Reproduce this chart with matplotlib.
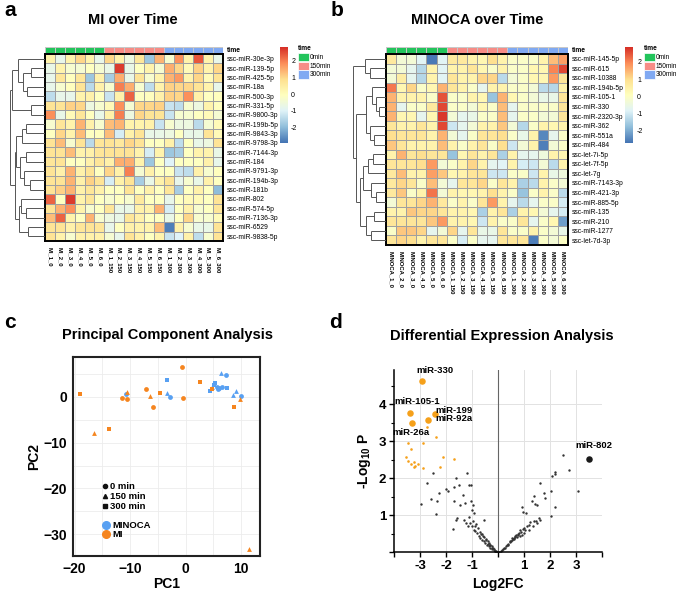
import numpy as np
import matplotlib
matplotlib.use('Agg')
import matplotlib.pyplot as plt
from matplotlib.colors import LinearSegmentedColormap, ListedColormap
from matplotlib.lines import Line2D

plt.rcParams['font.family'] = ['Liberation Sans', 'DejaVu Sans']
plt.rcParams['mathtext.fontset'] = 'custom'
plt.rcParams['mathtext.rm'] = 'Liberation Sans'
plt.rcParams['mathtext.bf'] = 'Liberation Sans:bold'

# ---------------- data ----------------
time_groups = ['0min', '150min', '300min']
time_colors = ['#22C45B', '#F78C86', '#80A9F2']
col_group = [0]*6 + [1]*6 + [2]*6

mi_rows = ['ssc-miR-30e-3p', 'ssc-miR-139-5p', 'ssc-miR-425-5p', 'ssc-miR-18a', 'ssc-miR-500-3p',
           'ssc-miR-331-5p', 'ssc-miR-9800-3p', 'ssc-miR-199b-5p', 'ssc-miR-9843-3p', 'ssc-miR-9798-3p',
           'ssc-miR-7144-3p', 'ssc-miR-184', 'ssc-miR-9791-3p', 'ssc-miR-194b-3p', 'ssc-miR-181b',
           'ssc-miR-802', 'ssc-miR-574-5p', 'ssc-miR-7136-3p', 'ssc-miR-6529', 'ssc-miR-9838-5p']
mi_cols = ['MI_1_0', 'MI_2_0', 'MI_3_0', 'MI_4_0', 'MI_5_0', 'MI_6_0',
           'MI_1_150', 'MI_2_150', 'MI_3_150', 'MI_4_150', 'MI_5_150', 'MI_6_150',
           'MI_1_300', 'MI_2_300', 'MI_3_300', 'MI_4_300', 'MI_5_300', 'MI_6_300']
mi_vals = [
    [0.3, -0.8, 0.3, 1.0, 0.3, -0.8, 1.0, 0.4, -0.6, 0.7, -1.8, 1.4, -0.3, 1.8, 0.3, 2.4, 0.3, -0.8],
    [-0.7, 0.3, -0.3, -0.4, -0.1, -0.4, -0.7, 2.7, -0.7, -0.1, 0.3, -0.4, 1.5, 1.0, 0.1, 1.1, 0.3, 1.0],
    [-0.8, 0.7, 0.0, 0.7, -1.8, 0.4, -1.7, 1.5, -0.7, 0.8, -0.3, 0.3, 1.4, 1.7, 0.3, 1.0, 0.1, 0.8],
    [-0.8, -0.3, 0.0, 0.8, -1.5, 0.4, -0.3, 2.0, 1.5, -0.3, -1.4, 0.3, 1.1, 1.0, 1.0, 0.8, 0.3, -0.8],
    [-1.4, -0.8, -0.8, 0.3, 0.4, -0.1, -1.3, 0.4, 2.3, -0.1, 0.0, 0.4, 1.1, 1.0, 1.8, 0.4, -0.1, 0.0],
    [0.8, 0.8, 1.1, 1.0, -0.6, -0.3, 0.1, 1.8, -0.4, 1.0, 1.0, 1.1, -1.3, -1.4, -0.3, -0.6, 0.3, 0.0],
    [1.8, -0.7, 0.1, 0.7, 0.0, -0.7, 0.4, 2.0, -0.6, 1.0, 0.8, 0.8, -1.3, -0.3, -0.3, -0.1, 0.1, -0.4],
    [-0.3, 0.7, 0.3, 1.4, 0.4, -0.3, 1.3, 1.4, 0.3, 0.3, 0.4, -1.3, -0.3, -0.6, -0.6, -1.5, -0.4, 0.1],
    [-0.1, 1.0, 0.3, 1.3, -0.1, 0.0, 1.3, -1.1, 0.4, 0.8, -0.7, -0.7, -0.6, -0.1, -0.7, -0.7, 0.8, 0.1],
    [0.8, 1.3, -0.3, 0.8, -1.5, 0.7, 0.8, 0.6, 1.0, 0.8, -0.1, -0.1, 0.4, -1.4, -0.1, -0.7, -0.6, 0.8],
    [0.8, 0.8, 1.3, 0.3, 0.4, 0.7, 0.8, 0.8, 0.8, 0.3, -1.1, 0.3, -1.8, -1.7, -0.1, 0.3, 0.3, -0.7],
    [0.7, 0.8, -0.1, -0.1, 0.4, 0.7, 0.4, 1.5, 1.5, 0.3, -1.8, -0.1, -1.0, -0.1, -0.1, -0.1, 0.4, -0.8],
    [0.8, 0.4, 1.4, 0.4, 0.8, -0.1, 1.0, 0.4, 2.0, -0.4, 0.4, -0.1, -0.1, -1.3, -1.4, 0.4, -0.3, 0.0],
    [0.8, 0.8, 1.4, 0.4, 1.1, 0.8, -1.1, 0.4, 0.8, -1.7, -0.7, 0.4, 0.8, -0.8, -0.3, -0.7, 0.4, -0.1],
    [0.8, 1.1, 1.4, 0.4, 0.7, 0.4, -0.1, -0.1, 0.8, -0.1, 0.4, -0.1, 0.7, -1.7, -0.1, 0.4, -0.1, -2.0],
    [2.3, -0.1, 2.7, 0.3, 0.7, -0.1, -0.3, -0.1, -0.3, 0.6, -0.1, -0.1, -0.8, -0.1, 0.1, 0.1, -0.1, 0.8],
    [0.8, 1.4, 1.8, 0.3, -0.3, -0.1, 0.7, -0.7, -0.7, 0.4, 0.3, 1.4, -1.1, -0.1, 0.4, -0.3, -0.1, 0.7],
    [1.3, 2.3, 0.3, -0.1, 1.4, -0.3, -0.6, -0.7, 0.7, 0.4, -0.1, -0.1, -0.7, -0.1, 1.0, -0.3, -0.3, 0.1],
    [0.8, 0.8, 0.4, 0.7, 0.8, 0.7, -0.8, -0.1, 0.4, 0.3, 0.3, 1.3, -2.8, 0.4, -0.3, -0.7, -0.7, 0.8],
    [0.8, 0.3, -0.3, 0.4, 0.4, 0.4, -0.4, -0.8, 0.8, 0.4, -0.1, 0.3, -1.3, -1.0, 0.4, -1.4, -0.3, 0.8],
]
mi_tree = (((0, ((1, 2, 0.41), (3, 4, 0.52), 0.64), 0.76), (5, 6, 0.41), 0.93),
           ((((7, 8, 0.55), 9, 0.67), ((10, 11, 0.55), (12, (13, 14, 0.42), 0.6), 0.72), 0.82),
            ((15, (16, 17, 0.55), 0.68), (18, 19, 0.5), 0.75), 0.87), 1.0)

mn_rows = ['ssc-miR-145-5p', 'ssc-miR-615', 'ssc-miR-10388', 'ssc-miR-194b-5p', 'ssc-miR-105-1',
           'ssc-miR-330', 'ssc-miR-2320-3p', 'ssc-miR-362', 'ssc-miR-551a', 'ssc-miR-484',
           'ssc-let-7i-5p', 'ssc-let-7f-5p', 'ssc-let-7g', 'ssc-miR-7143-3p', 'ssc-miR-421-3p',
           'ssc-miR-885-5p', 'ssc-miR-135', 'ssc-miR-210', 'ssc-miR-1277', 'ssc-let-7d-3p']
mn_cols = ['MINOCA_1_0', 'MINOCA_2_0', 'MINOCA_3_0', 'MINOCA_4_0', 'MINOCA_5_0', 'MINOCA_6_0',
           'MINOCA_1_150', 'MINOCA_2_150', 'MINOCA_3_150', 'MINOCA_4_150', 'MINOCA_5_150', 'MINOCA_6_150',
           'MINOCA_1_300', 'MINOCA_2_300', 'MINOCA_3_300', 'MINOCA_4_300', 'MINOCA_5_300', 'MINOCA_6_300']
mn_vals = [
    [0.7, -0.3, -0.3, -0.8, -2.7, -0.8, 0.7, 0.7, 0.4, 0.3, 1.0, 0.4, -0.1, -0.1, -0.1, 0.4, 1.4, 1.7],
    [-0.3, -0.3, -0.7, -1.4, 0.4, -0.8, 0.4, 0.4, 0.8, 0.3, -0.1, 0.4, -0.1, -0.1, 0.3, 0.3, 2.0, 2.6],
    [-0.3, 0.6, -0.7, -1.4, 0.4, -0.8, 0.8, 0.4, 0.4, 1.1, 1.1, -1.3, -0.3, -0.1, 0.3, 0.3, 1.8, 0.8],
    [2.1, 0.3, 1.1, -0.1, 0.3, 1.5, 0.8, 0.4, -0.1, -0.7, 0.4, 0.4, -0.1, -0.1, -0.3, -1.3, -1.4, 0.4],
    [1.5, 0.4, 0.4, 0.4, -0.1, 2.5, -0.1, -0.1, 0.4, 0.3, -1.7, 1.5, 0.3, -0.1, -0.3, -0.6, -0.6, 0.8],
    [1.5, -0.7, -0.1, -0.1, 0.7, 2.6, -0.1, -0.1, -0.3, 0.3, -0.1, 1.4, -0.7, -0.1, -0.1, -0.1, -0.1, 0.8],
    [1.5, 0.3, 0.3, -0.7, 0.3, 2.8, -0.3, -0.7, -0.6, -0.1, -0.1, 1.4, -0.7, -0.1, -0.1, -0.3, -0.3, 0.8],
    [0.8, 0.4, 0.4, 0.8, 0.4, 2.6, -1.1, -0.7, -0.3, 0.4, 0.4, 1.3, -0.3, -1.4, -0.1, 0.4, 0.3, 0.4],
    [1.0, 0.8, 0.8, 0.8, 0.4, 1.5, -0.3, -0.7, -0.1, 0.8, 0.8, 1.0, -0.1, -0.6, 0.4, -2.5, -0.7, -0.1],
    [1.3, 0.8, 0.4, 0.4, 0.4, 1.4, 0.4, -0.1, 0.4, 0.8, -0.1, 1.0, -1.1, -0.3, 0.4, -2.6, -0.3, -0.1],
    [0.4, 1.5, 0.8, 1.0, 0.8, 0.8, -1.7, 0.3, 0.8, 0.4, 0.8, -1.5, 0.4, -0.7, -0.7, -0.4, 0.4, 0.3],
    [0.8, 0.8, 0.8, 1.0, 1.8, -0.3, -0.1, 0.4, 1.1, 0.4, -0.7, -0.8, 0.4, -1.0, -1.1, -0.3, -1.3, 0.4],
    [0.7, 1.4, 0.4, 0.4, 1.7, 1.3, 0.3, 0.4, 0.8, 0.8, -1.1, -1.1, -0.1, -0.1, -1.1, 0.4, -0.6, -0.4],
    [0.7, 1.1, 0.8, -0.1, 1.4, -0.3, -0.7, 0.8, 0.8, 1.1, -0.1, 0.8, 0.4, -1.5, -1.3, 0.4, -0.1, -0.3],
    [0.7, 1.3, -0.1, 0.4, 2.2, -0.3, 0.4, 0.3, 0.3, 0.4, 1.0, 0.4, -0.1, -1.7, -0.1, 0.4, -0.1, -1.3],
    [-0.3, 0.8, 0.8, 1.1, 1.5, 0.7, -0.1, 0.4, -0.1, 0.8, 1.8, 0.4, -0.7, -1.3, -0.7, -0.1, -0.1, -1.0],
    [0.4, 0.4, 1.3, 1.1, 1.1, 0.8, 0.4, 0.4, 0.3, -1.5, 0.4, 0.8, -1.5, 0.4, 0.3, -0.3, -0.7, -1.0],
    [0.8, 0.8, 0.8, 0.8, 1.3, 1.8, 0.4, 0.4, 0.3, -1.1, 0.4, -0.1, -0.1, 0.8, -0.7, -0.1, 0.3, -2.2],
    [-0.1, 1.3, 1.3, 1.1, -0.7, -0.3, 1.1, -0.7, 0.8, -0.6, -0.6, 0.8, -0.1, -0.1, 0.4, -0.1, -0.3, -0.6],
    [0.8, 1.1, 1.0, 0.4, 0.8, 0.8, -0.1, -1.0, -0.1, -0.7, -0.7, 0.8, 0.8, 0.8, -2.6, -0.1, -0.3, 0.0],
]
mn_tree = ((0, (1, 2, 0.5), 0.64),
           (((3, (4, (5, 6, 0.2), 0.3), 0.42), (7, (8, 9, 0.35), 0.48), 0.62),
            ((((10, 11, 0.4), 12, 0.55), (13, (14, 15, 0.3), 0.45), 0.7),
             ((16, 17, 0.35), (18, 19, 0.45), 0.6), 0.8), 0.9), 1.0)

# PCA (PC1, PC2, time group index)
pca_mi_pc1 = [-19.0, -16.6, -13.8, -11.4, -10.6, -10.5, -7.1, -6.4, -5.8, -4.6, -0.6, -0.4, 2.5, 4.8, 8.8, 9.8, 11.5]
pca_mi_pc2 = [0.6, -7.9, -7.1, -0.3, -0.5, 1.1, 1.8, 0.3, -2.3, 0.8, 6.6, -0.3, 3.2, 1.7, -2.3, -0.4, -33.3]
pca_mi_time = [2, 1, 2, 0, 0, 1, 0, 1, 0, 2, 0, 0, 2, 2, 2, 1, 1]
pca_mn_pc1 = [-10.7, -3.4, -3.3, -2.9, 6.3, 7.3, 5.3, 4.7, 4.4, 5.6, 5.8, 6.6, 7.4, 8.5, 9.1, 10.0, 5.1, 6.0]
pca_mn_pc2 = [0.6, 3.7, 0.8, -0.1, 5.3, 4.9, 3.0, 2.1, 1.4, 2.1, 1.7, 2.2, 2.0, 0.4, 1.3, 0.3, 2.6, 1.9]
pca_mn_time = [0, 2, 1, 0, 1, 0, 2, 1, 2, 0, 0, 0, 2, 1, 1, 0, 2, 0]

# Volcano
volc_sig_names = ['miR-330', 'miR-105-1', 'miR-199', 'miR-92a', 'miR-26a']
volc_sig_fc = [-2.91, -3.40, -2.44, -2.71, -3.31]
volc_sig_p = [4.63, 3.77, 3.74, 3.58, 3.50]
volc_up_name = 'miR-802'
volc_up_fc = 3.50
volc_up_p = 2.52
volc_or_fc = [-2.73, -2.38, -3.45, -2.88, -3.35, -3.53, -3.46, -3.22, -3.18, -3.09, -3.22, -2.90,
              -2.22, -2.13, -1.71, -3.33]
volc_or_p = [3.37, 3.10, 2.95, 2.95, 2.79, 2.56, 2.47, 2.42, 2.33, 2.37, 2.29, 2.27,
             2.30, 2.58, 2.51, 2.39]
volc_fc = [-2.50, -2.73, -2.95, -2.35, -2.58, -2.38, -2.28, -2.01, -1.92, -1.63, -1.51, -1.19, -1.10,
           -1.04, -1.68, -1.35, -1.71, -1.47, -1.27, -1.58, -1.73, -1.63, -1.03, -0.96, -1.00, -0.94,
           -1.32, -1.24, -1.06, -1.15, -1.00, -0.94, -0.55, -0.87, -0.81, -0.74, -0.68, -0.62, -0.55,
           -0.49, -0.42, -0.36, -0.29, -0.23, -0.17, -0.10, -0.78, -0.70, -0.65, -0.60, -0.52, -0.45,
           -0.40, -0.35, -0.30, -0.25, -0.20, -0.15, -0.12, -0.85, -0.90, -0.95, -1.10, -0.58, -0.48,
           -0.38, -0.32, -0.22, -0.08, -0.05,
           2.50, 2.73, 3.08, 2.18, 2.21, 2.09, 2.04, 2.21, 2.03, 1.63, 1.78, 1.79, 1.37, 1.29, 1.42,
           1.51, 0.94, 1.09, 0.96, 1.58, 1.37, 1.24, 1.12, 1.05, 0.99, 0.92, 0.86, 0.73, 0.60, 0.47,
           0.35, 0.22, 0.15, 1.63, 1.50, 1.35, 1.18, 0.86, 0.67, 0.54, 0.10, 0.30, 0.40, 0.50, 0.55,
           0.62, 0.70, 0.78, 0.82, 0.90, 1.00, 0.45, 0.65, 0.75, 0.95, 1.20, 1.45, 0.58, 0.38, 0.25,
           0.18, 0.05]
volc_p = [2.14, 1.86, 1.29, 1.37, 1.43, 1.03, 1.59, 1.69, 1.66, 1.99, 1.80, 2.13, 1.82,
          1.82, 1.75, 1.53, 1.38, 1.28, 1.32, 0.92, 0.62, 0.87, 1.38, 1.27, 1.13, 1.05,
          0.87, 0.78, 0.78, 0.69, 0.69, 0.60, 0.87, 0.56, 0.51, 0.42, 0.38, 0.33, 0.29,
          0.24, 0.20, 0.15, 0.11, 0.08, 0.05, 0.02, 0.65, 0.55, 0.48, 0.50, 0.40, 0.33,
          0.30, 0.25, 0.20, 0.15, 0.10, 0.08, 0.04, 0.75, 0.70, 0.85, 0.95, 0.42, 0.36,
          0.22, 0.18, 0.12, 0.03, 0.01,
          2.61, 2.21, 1.65, 2.15, 2.12, 2.06, 1.64, 1.22, 0.98, 1.86, 1.59, 1.46, 1.52, 1.38, 1.31,
          1.26, 1.23, 1.05, 1.07, 0.92, 0.83, 0.80, 0.69, 0.60, 0.51, 0.47, 0.42, 0.41, 0.35, 0.29,
          0.20, 0.11, 0.06, 0.87, 0.78, 0.71, 0.60, 0.60, 0.44, 0.39, 0.03, 0.15, 0.22, 0.30, 0.33,
          0.38, 0.45, 0.48, 0.52, 0.55, 0.65, 0.26, 0.40, 0.46, 0.62, 0.72, 0.85, 0.36, 0.18, 0.12,
          0.08, 0.01]

# ---------------- figure ----------------
W, H = 677, 592
fig = plt.figure(figsize=(W / 100, H / 100), dpi=100)


def px_axes(x0, y0, x1, y1):
    return fig.add_axes([x0 / W, 1 - y1 / H, (x1 - x0) / W, (y1 - y0) / H])


def fx(x):
    return x / W


def fy(y):
    return 1 - y / H


cmap = LinearSegmentedColormap.from_list(
    'ph', ['#4575B4', '#91BFDB', '#E0F3F8', '#FFFFBF', '#FEE090', '#FC8D59', '#D73027'], N=100)
ann_cmap = ListedColormap(time_colors)


def draw_dendro(ax, tree, n):
    def rec(node):
        if isinstance(node, int):
            return node + 0.5, 0.0
        l, r, h = node
        yl, hl = rec(l)
        yr, hr = rec(r)
        kw = dict(color='#555555', lw=0.7, solid_capstyle='butt')
        ax.plot([hl, h], [yl, yl], **kw)
        ax.plot([hr, h], [yr, yr], **kw)
        ax.plot([h, h], [yl, yr], **kw)
        return (yl + yr) / 2, h
    rec(tree)
    ax.set_xlim(1.0, 0)
    ax.set_ylim(n, 0)
    ax.axis('off')


def heatmap_panel(box, ann_box, dendro_x, vals, rows, cols, tree, vmin, vmax,
                  cbar_box, legend_x, title, title_x):
    x0, y0, x1, y1 = box
    data = np.array(vals)
    nr, nc = data.shape
    ax = px_axes(x0, y0, x1, y1)
    ax.pcolormesh(data, cmap=cmap, vmin=vmin, vmax=vmax, edgecolors='#a0a0a0', linewidth=0.5)
    ax.set_xlim(0, nc)
    ax.set_ylim(nr, 0)
    for s in ax.spines.values():
        s.set_linewidth(1.4)
        s.set_color('black')
    ax.yaxis.tick_right()
    ax.set_yticks(np.arange(nr) + 0.5)
    ax.set_yticklabels(rows, fontsize=4.9)
    ax.set_xticks(np.arange(nc) + 0.5)
    ax.set_xticklabels(cols, fontsize=4.2, rotation=270, fontweight='bold')
    ax.tick_params(length=0, pad=3)
    ax.tick_params(axis='x', pad=4)
    # annotation bar
    aa = px_axes(*ann_box)
    aa.pcolormesh(np.array([col_group]), cmap=ann_cmap, vmin=-0.5, vmax=2.5,
                  edgecolors='#c8c8c8', linewidth=0.4)
    aa.set_xlim(0, nc)
    aa.set_ylim(1, 0)
    aa.set_xticks([])
    aa.yaxis.tick_right()
    aa.set_yticks([0.5])
    aa.set_yticklabels(['time'], fontsize=4.9, fontweight='bold')
    aa.tick_params(length=0, pad=3)
    for s in aa.spines.values():
        s.set_visible(False)
    # dendrogram
    da = px_axes(dendro_x, y0, x0, y1)
    draw_dendro(da, tree, nr)
    # colorbar
    ca = px_axes(*cbar_box)
    grad = np.linspace(vmax, vmin, 100).reshape(-1, 1)
    ca.imshow(grad, cmap=cmap, vmin=vmin, vmax=vmax, aspect='auto',
              extent=[0, 1, vmin, vmax])
    ca.set_xticks([])
    ca.yaxis.tick_right()
    ca.set_yticks([2, 1, 0, -1, -2])
    ca.set_yticklabels(['2', '1', '0', '-1', '-2'], fontsize=5.0)
    ca.tick_params(length=0, pad=3)
    for s in ca.spines.values():
        s.set_visible(False)
    # legend
    fig.text(fx(legend_x), fy(49), 'time', fontsize=4.8, fontweight='bold', va='center')
    for k, (lab, col) in enumerate(zip(time_groups, time_colors)):
        ytop = 53 + k * 8.7
        fig.patches.append(plt.Rectangle((fx(legend_x), fy(ytop + 8.2)), 10.5 / W, 8.2 / H,
                                         transform=fig.transFigure, facecolor=col,
                                         edgecolor='white', lw=0.5))
        fig.text(fx(legend_x + 12), fy(ytop + 4.3), lab, fontsize=4.7, va='center')
    fig.text(fx(title_x), fy(20), title, fontsize=10.5, fontweight='bold', ha='center', va='center')


heatmap_panel((45, 54, 223, 241), (45, 46.5, 223, 52.5), 10, mi_vals, mi_rows, mi_cols, mi_tree,
              -2.95, 2.84, (279.5, 47, 287, 143), 298, 'MI over Time', 133)
heatmap_panel((386, 54, 568, 245), (386, 47, 568, 53), 353, mn_vals, mn_rows, mn_cols, mn_tree,
              -2.76, 2.88, (625, 47, 633, 143), 644, 'MINOCA over Time', 477)

# panel letters
for lab, x, y in [('a', 4, 10), ('b', 331, 10), ('c', 4, 322), ('d', 329, 322)]:
    fig.text(fx(x), fy(y), lab, fontsize=15, fontweight='bold', va='center', ha='left')

# ---------------- PCA ----------------
pa = px_axes(73, 357, 260, 556)
pa.set_xlim(-20.3, 13.4)
pa.set_ylim(-34.8, 8.75)
markers = ['o', '^', 's']
c_mn = '#58A0F2'
c_mi = '#F5851F'
for t in range(3):
    xs = [x for x, tt in zip(pca_mn_pc1, pca_mn_time) if tt == t]
    ys = [y for y, tt in zip(pca_mn_pc2, pca_mn_time) if tt == t]
    pa.scatter(xs, ys, marker=markers[t], s=12, color=c_mn, linewidths=0, zorder=3)
for t in range(3):
    xs = [x for x, tt in zip(pca_mi_pc1, pca_mi_time) if tt == t]
    ys = [y for y, tt in zip(pca_mi_pc2, pca_mi_time) if tt == t]
    pa.scatter(xs, ys, marker=markers[t], s=12, color=c_mi, linewidths=0, zorder=3)
pa.set_xticks([-20, -10, 0, 10])
pa.set_yticks([0, -10, -20, -30])
pa.set_xticks(np.arange(-20, 15, 5), minor=True)
pa.set_yticks(np.arange(-30, 10, 5), minor=True)
pa.grid(True, which='both', color='#ececec', lw=0.6)
pa.set_axisbelow(True)
pa.tick_params(which='both', length=0, pad=4)
for lbl in pa.get_xticklabels() + pa.get_yticklabels():
    lbl.set_fontweight('bold')
    lbl.set_fontsize(10)
for s in pa.spines.values():
    s.set_linewidth(1.5)
    s.set_color('#222222')
pa.set_xlabel('PC1', fontsize=10, fontweight='bold', labelpad=1)
pa.set_ylabel('PC2', fontsize=10, fontweight='bold', labelpad=2)
h_shape = [Line2D([], [], marker=m, ls='', color='#111111', markersize=3) for m in markers]
leg1 = pa.legend(h_shape, ['0 min', '150 min', '300 min'], loc='upper left',
                 bbox_to_anchor=(0.135, 0.395), frameon=False, handlelength=0.5,
                 handletextpad=0.2, labelspacing=0.12, borderpad=0,
                 prop={'weight': 'bold', 'size': 6.8})
pa.add_artist(leg1)
h_col = [Line2D([], [], marker='o', ls='', color=c, markersize=5.5) for c in [c_mn, c_mi]]
pa.legend(h_col, ['MINOCA', 'MI'], loc='upper left', bbox_to_anchor=(0.135, 0.2),
          frameon=False, handlelength=0.6, handletextpad=0.35, labelspacing=0.05, borderpad=0,
          prop={'weight': 'bold', 'size': 6.8})
fig.text(fx(168), fy(335), 'Principal Component Analysis', fontsize=10.5, fontweight='bold',
         ha='center', va='center')

# ---------------- Volcano ----------------
va = px_axes(394, 370, 602, 552)
va.set_xlim(-4, 4)
va.set_ylim(0, 4.92)
for gx in [-3, -2, -1, 1, 2, 3]:
    va.axvline(gx, color='#e2e2e2', lw=0.7, zorder=0)
for gy in [1, 2, 3, 4]:
    va.axhline(gy, color='#e2e2e2', lw=0.7, zorder=0)
va.axvline(0, color='#666666', lw=0.8, zorder=1)
va.scatter(volc_fc, volc_p, s=3, color='#333333', linewidths=0, zorder=2)
va.scatter(volc_or_fc, volc_or_p, s=3.5, color='#F5A01A', linewidths=0, zorder=2)
va.scatter(volc_sig_fc, volc_sig_p, s=22, color='#F5A01A', linewidths=0, zorder=3)
va.scatter([volc_up_fc], [volc_up_p], s=22, color='#1a1a1a', linewidths=0, zorder=3)
lab_pos = {'miR-330': (-2.41, 4.9), 'miR-105-1': (-3.09, 4.07),
           'miR-199': (-1.71, 3.83), 'miR-92a': (-1.71, 3.61),
           'miR-26a': (-3.35, 3.23)}
for nm in volc_sig_names:
    x, y = lab_pos[nm]
    va.text(x, y, nm, fontsize=6.8, fontweight='bold', ha='center', va='center')
va.text(3.68, 2.87, volc_up_name, fontsize=6.8, fontweight='bold', ha='center', va='center')
va.spines['top'].set_visible(False)
va.spines['right'].set_visible(False)
va.spines['left'].set_linewidth(1.1)
va.spines['bottom'].set_linewidth(1.1)
va.set_xticks(range(-4, 5))
va.set_xticklabels(['', '-3', '-2', '-1', '', '1', '2', '3', ''])
va.set_yticks([0, 1, 2, 3, 4])
va.set_yticklabels(['', '1', '2', '3', '4'])
va.set_yticks(np.arange(0.5, 5, 1), minor=True)
va.tick_params(which='major', length=3.5, width=1, pad=2)
va.tick_params(which='minor', length=2, width=0.8)
for lbl in va.get_xticklabels() + va.get_yticklabels():
    lbl.set_fontweight('bold')
    lbl.set_fontsize(9.5)
va.set_xlabel('Log2FC', fontsize=10, fontweight='bold', labelpad=4)
va.set_ylabel(r'-Log$_{\mathbf{10}}$ P', fontsize=10, fontweight='bold', labelpad=4)
fig.text(fx(502), fy(336), 'Differential Expression Analysis', fontsize=10.5, fontweight='bold',
         ha='center', va='center')

fig.savefig('out.png', dpi=100)
